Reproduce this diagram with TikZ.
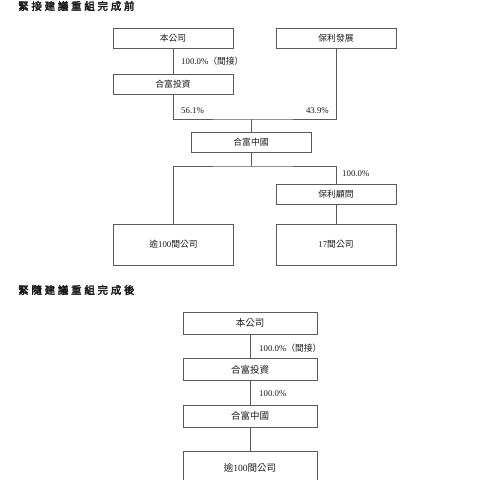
\documentclass[tikz,border=0pt]{standalone}
\usepackage{fontspec}
\setmainfont{Liberation Serif}
\newfontfamily\cjk{Noto Sans CJK TC}
\newfontfamily\cjkhead{Noto Sans CJK TC}[FakeBold=3,LetterSpace=26]
\newcommand{\zh}[1]{{\cjk #1}}
\usepackage{tikz}
\usetikzlibrary{positioning,calc}
\definecolor{oline}{HTML}{5A5A5A}
\definecolor{otext}{HTML}{1A1A1A}
\tikzset{
  obox/.style={draw=oline, line width=0.8pt, fill=white, text=otext,
               minimum width=120pt, minimum height=20pt, inner sep=0pt,
               font=\fontsize{8.8}{10}\selectfont},
  obig/.style={obox, minimum height=41pt},
  obox2/.style={obox, minimum width=134pt, minimum height=22pt,
                font=\fontsize{9.5}{11}\selectfont},
  olink/.style={draw=oline, line width=0.7pt},
  olbl/.style={text=otext, font=\fontsize{8.8}{10}\selectfont, inner sep=0pt, anchor=west},
  ohead/.style={text=otext, font=\fontsize{10.5}{12}\selectfont\cjkhead, inner sep=0pt, anchor=west},
}

\begin{document}
\begin{tikzpicture}[x=1pt,y=-1pt]
  \useasboundingbox (0,0) rectangle (480,480);

  % before reorganisation
  \node[ohead] (t1) at (18,6) {緊接建議重組完成前};

  \node[obox] (benco) at (173,38)  {\zh{本公司}};
  \node[obox] (poly)  at (336,38)  {\zh{保利發展}};
  \node[obox] (hfinv) at (173,84)  {\zh{合富投資}};
  \node[obox] (hfcn)  at (251,142.5) {\zh{合富中國}};
  \node[obox] (plgw)  at (336,194) {\zh{保利顧問}};
  \node[obig] (over)  at (173.5,244.5) {\zh{逾}100\zh{間公司}};
  \node[obig] (co17)  at (336,244.5) {17\zh{間公司}};

  \coordinate (j1) at (251,119);
  \coordinate (j2) at (251,166);

  \draw[olink] (benco) -- (hfinv);
  \draw[olink] (hfinv) |- (j1) -| (poly);
  \draw[olink] (j1) -- (hfcn);
  \draw[olink] (hfcn) -- (j2);
  \draw[olink] (over) |- (j2) -| (plgw);
  \draw[olink] (plgw) -- (co17);

  \node[olbl] (p1) at (181,61)  {100.0\%\zh{（間接）}};
  \node[olbl] (p2) at (181,111) {56.1\%};
  \node[olbl, anchor=east] (p3) at (329,111) {43.9\%};
  \node[olbl] (p4) at (342,174) {100.0\%};

  % after reorganisation
  \node[ohead] (t2) at (18,290) {緊隨建議重組完成後};

  \node[obox2] (benco2) at (250,323)   {\zh{本公司}};
  \node[obox2] (hfinv2) at (250,369.5) {\zh{合富投資}};
  \node[obox2] (hfcn2)  at (250,416)   {\zh{合富中國}};
  \node[obox2, minimum height=34pt] (over2) at (250,468) {\zh{逾}100\zh{間公司}};

  \draw[olink] (benco2) -- (hfinv2);
  \draw[olink] (hfinv2) -- (hfcn2);
  \draw[olink] (hfcn2) -- (over2);

  \node[olbl] (q1) at (259,348) {100.0\%\zh{（間接）}};
  \node[olbl] (q2) at (259,394) {100.0\%};

\end{tikzpicture}
\end{document}
